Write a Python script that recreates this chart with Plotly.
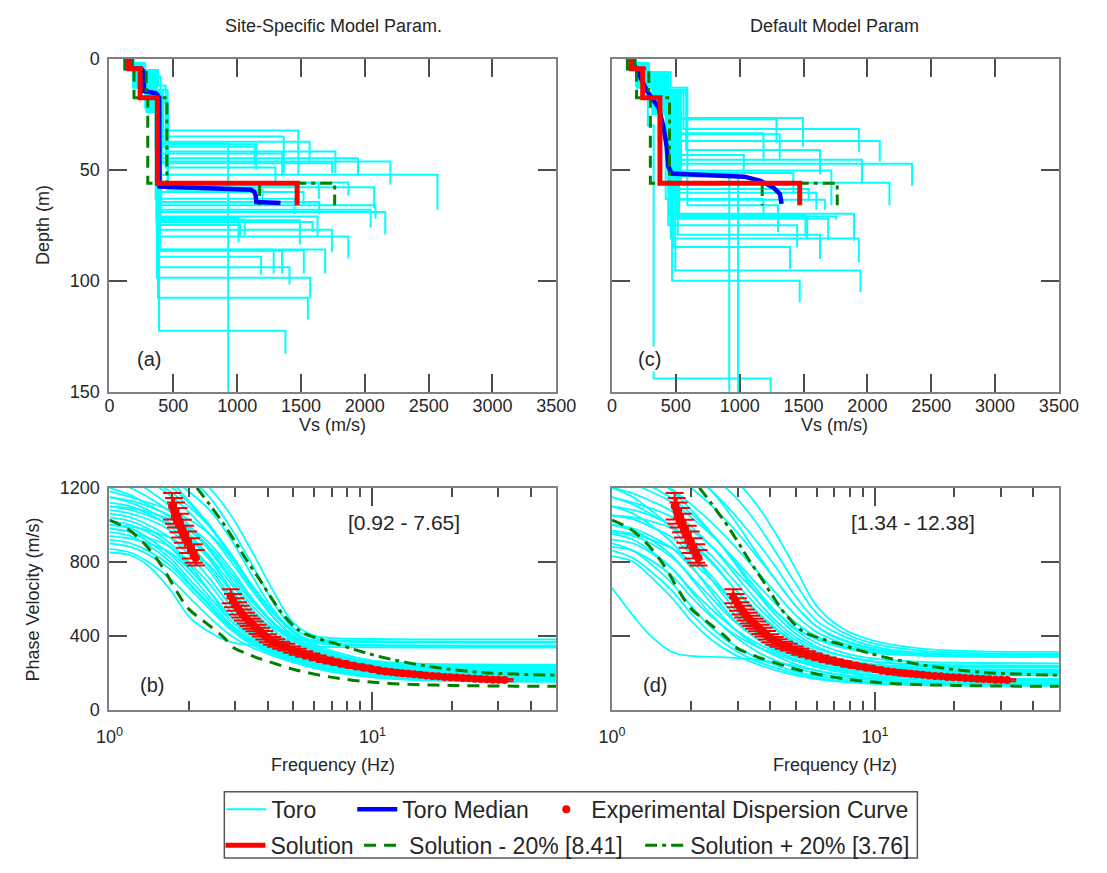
import plotly.graph_objects as go

W, H = 1107, 873

# ---------------- Vs profiles ----------------
# Toro-randomised profiles, site-specific parameters.
# Layer Vs (m/s) and depth of each layer bottom (m); last layer = half-space segment.
ss_vs = [
    [140, 210, 330, 380, 1479], [160, 230, 350, 400, 1365], [130, 200, 310, 370, 1567],
    [150, 250, 360, 390, 930], [170, 240, 300, 420, 1150], [120, 190, 280, 360, 1137],
    [145, 220, 340, 445, 1770], [180, 260, 370, 395, 1353], [135, 205, 320, 385, 1947],
    [155, 235, 355, 410, 2200], [125, 195, 290, 375, 1745], [165, 245, 345, 400, 2569],
    [140, 215, 330, 380, 1871], [150, 225, 350, 390, 2073], [130, 210, 300, 365, 1520],
    [175, 255, 365, 405, 1643], [145, 230, 335, 385, 2084], [160, 240, 360, 395, 2046],
    [135, 200, 315, 372, 2160], [150, 220, 340, 388, 1011], [170, 250, 355, 398, 1059],
    [125, 190, 305, 368, 1491], [155, 235, 345, 392, 1022], [140, 215, 325, 380, 1590],
    [165, 245, 350, 400, 1630], [130, 205, 310, 370, 1742], [150, 225, 340, 385, 1871],
    [145, 220, 330, 378, 1689], [160, 240, 350, 395, 1286], [135, 210, 320, 375, 1352],
    [155, 230, 345, 390, 1522], [140, 215, 335, 382, 1188], [150, 225, 340, 386, 1410],
    [130, 205, 315, 372, 1572], [145, 220, 330, 380, 1554], [155, 235, 345, 388, 1378],
    [175, 260, 370, 455, 1200], [120, 185, 290, 362, 1450], [190, 280, 380, 440, 1300],
    [140, 200, 400, 460, 1640],
]
ss_bot = [
    [3, 9, 18, 32.3, 52], [2, 8, 16, 35, 51.5], [4, 10, 20, 37.4, 47],
    [3, 7, 17, 38, 160], [2, 6, 14, 38.5, 49.8], [5, 12, 22, 39.6, 48],
    [3, 9, 19, 41.8, 51.5], [2, 7, 15, 42.6, 53], [4, 11, 21, 44.8, 52.8],
    [3, 8, 17, 46.3, 56.6], [4, 12, 23, 47, 51.5], [2, 7, 16, 52.2, 68],
    [3, 10, 19, 55.7, 61.6], [3, 8, 18, 57.9, 67.4], [4, 11, 24, 60, 66],
    [2, 6, 15, 64.5, 70], [3, 9, 18, 66, 72], [2, 8, 17, 68, 76],
    [4, 10, 20, 69, 79.2], [3, 9, 18, 71.7, 82.7], [2, 7, 16, 72.4, 80],
    [5, 12, 22, 72.7, 83.6], [3, 8, 17, 74.9, 80], [3, 10, 19, 73.5, 78],
    [2, 7, 16, 71, 80], [4, 11, 21, 77, 87.1], [3, 9, 18, 80, 90],
    [3, 9, 19, 85.9, 96.7], [2, 8, 17, 86, 96.7], [4, 10, 20, 86.5, 96.7],
    [3, 8, 17, 86.2, 96.7], [3, 9, 18, 89.2, 97.3], [3, 9, 18, 93.9, 101.7],
    [4, 11, 21, 98.6, 108], [3, 9, 19, 107.6, 117.4], [3, 8, 17, 122.5, 133],
    [2, 6, 14, 59, 64], [5, 13, 24, 63, 70], [2, 5, 12, 49, 55],
    [3, 8, 20, 56, 63],
]

# Toro-randomised profiles, default parameters.
def_vs = [
    [150, 230, 380, 520, 1495], [130, 210, 350, 480, 1288], [170, 260, 420, 560, 1933],
    [120, 200, 330, 450, 1186], [160, 240, 400, 500, 1313], [140, 220, 360, 470, 2097],
    [180, 280, 440, 580, 1629], [125, 190, 320, 430, 1032], [155, 250, 390, 510, 1958],
    [135, 215, 345, 460, 2350], [165, 255, 410, 530, 1718], [145, 225, 370, 490, 1420],
    [150, 235, 360, 440, 918], [140, 230, 340, 470, 987], [175, 270, 430, 540, 2173],
    [130, 205, 335, 455, 1540], [160, 245, 380, 500, 1600], [120, 195, 315, 420, 1186],
    [150, 240, 375, 485, 1667], [145, 220, 350, 465, 1895], [170, 265, 415, 525, 1528],
    [135, 210, 340, 450, 1515], [155, 250, 395, 505, 1756], [140, 225, 355, 475, 1693],
    [165, 255, 400, 515, 1629], [130, 210, 340, 460, 1933], [150, 235, 370, 480, 1394],
    [160, 245, 385, 495, 1946], [145, 230, 360, 470, 1470], [120, 190, 280, 326, 1242],
    [185, 290, 460, 590, 1300], [125, 200, 330, 440, 1450],
]
def_bot = [
    [3, 8, 16, 26.7, 39.6], [4, 10, 18, 27.2, 38], [2, 7, 15, 31.6, 42],
    [3, 9, 20, 33.5, 46], [2, 8, 17, 34, 45], [3, 11, 22, 37, 46.2],
    [2, 6, 14, 41.1, 52], [4, 12, 24, 43.3, 50], [3, 9, 19, 45.5, 55.8],
    [4, 10, 21, 47.3, 57.3], [2, 8, 16, 50.3, 66], [3, 9, 18, 51.4, 60],
    [3, 9, 20, 52, 160], [3, 10, 21, 53, 160], [2, 7, 15, 55.8, 66],
    [4, 11, 23, 58.7, 64], [3, 8, 17, 60.3, 68], [5, 13, 25, 63.2, 72.6],
    [3, 9, 18, 63.5, 68], [3, 10, 20, 69.8, 82], [2, 7, 15, 71.2, 81.5],
    [4, 11, 22, 70.5, 80], [3, 8, 17, 71, 72.5], [3, 10, 20, 72, 81.8],
    [2, 8, 16, 79.3, 90.2], [4, 11, 22, 81, 91.7], [3, 9, 18, 84.8, 94.6],
    [3, 8, 17, 95.4, 105], [3, 10, 19, 100, 109.7], [4, 12, 30, 144, 160],
    [2, 6, 13, 66, 78], [4, 12, 24, 75, 85],
]

# Median of the Toro profiles (Vs, depth pairs)
med_ss_vs = [150, 150, 250, 270, 270, 365, 390, 392, 1110, 1135, 1145, 1150, 1340]
med_ss_depth = [0, 4.5, 4.5, 6, 14.5, 15.5, 17.5, 57.5, 59, 60, 61.5, 64.5, 65]
med_def_vs = [150, 200, 276, 365, 403, 428, 441, 466, 707, 1036, 1163, 1264, 1315, 1328]
med_def_depth = [0, 6, 14.7, 22, 30.8, 39.6, 48.4, 51.7, 52.4, 53.1, 55, 58, 60.9, 65.3]

# Inverted solution and its +/- 20 % variants
sol_vs = [150, 240, 375, 1470]
sol_minus_vs = [120, 192, 300, 1176]
sol_plus_vs = [180, 288, 450, 1764]
sol_bot = [4.5, 17.5, 56, 66]

# ---------------- Dispersion curves ----------------
toro_freq = [1.0, 1.2, 1.4, 1.7, 2.0, 2.4, 2.9, 3.5, 4.2, 5.0, 6.0, 7.5, 10, 15, 25, 50]

ss_vr = [
    [1500, 1450, 1400, 1350, 1290, 1200, 1050, 850, 640, 470, 400, 385, 382, 380, 380, 380],
    [1450, 1400, 1350, 1300, 1250, 1150, 980, 780, 580, 440, 385, 372, 368, 366, 365, 365],
    [1400, 1360, 1310, 1250, 1180, 1080, 920, 720, 540, 420, 370, 355, 350, 348, 347, 347],
    [1350, 1300, 1250, 1180, 1100, 990, 840, 660, 500, 400, 362, 350, 345, 343, 342, 342],
    [1100, 1080, 1050, 1000, 930, 820, 650, 520, 440, 395, 375, 368, 365, 364, 363, 363],
    [980, 960, 930, 880, 790, 640, 480, 410, 390, 380, 375, 372, 370, 369, 368, 368],
    [850, 835, 780, 650, 505, 420, 365, 350, 345, 342, 340, 338, 337, 336, 336, 336],
    [1300, 1250, 1190, 1100, 1000, 870, 720, 580, 470, 390, 330, 285, 255, 240, 236, 235],
    [1250, 1200, 1150, 1070, 980, 860, 700, 560, 450, 370, 315, 275, 245, 230, 226, 225],
    [1200, 1160, 1110, 1040, 950, 830, 680, 540, 430, 355, 300, 262, 236, 222, 218, 217],
    [1150, 1120, 1080, 1010, 930, 810, 650, 510, 410, 340, 290, 255, 228, 214, 210, 208],
    [1120, 1100, 1060, 990, 900, 770, 610, 480, 390, 325, 280, 246, 222, 207, 202, 200],
    [1080, 1060, 1030, 970, 880, 750, 590, 460, 375, 315, 272, 240, 215, 200, 195, 193],
    [1060, 1040, 1000, 930, 840, 710, 560, 440, 360, 305, 265, 234, 208, 194, 188, 186],
    [1040, 1020, 980, 900, 800, 680, 530, 420, 345, 295, 258, 228, 202, 188, 182, 180],
    [1020, 1000, 960, 880, 770, 640, 500, 400, 335, 288, 252, 222, 197, 182, 176, 174],
    [1000, 980, 930, 840, 740, 610, 480, 385, 325, 280, 246, 216, 192, 177, 171, 169],
    [980, 960, 910, 820, 710, 590, 460, 375, 318, 274, 240, 210, 186, 172, 166, 164],
    [960, 940, 890, 800, 690, 570, 450, 365, 310, 268, 235, 205, 182, 168, 162, 160],
    [1150, 1130, 1100, 1050, 990, 900, 760, 600, 470, 380, 320, 275, 240, 218, 208, 205],
    [1100, 1090, 1070, 1030, 970, 880, 740, 590, 465, 375, 315, 270, 232, 210, 200, 197],
    [940, 925, 900, 850, 760, 640, 500, 400, 330, 280, 245, 212, 188, 172, 165, 162],
    [920, 900, 860, 780, 680, 560, 440, 360, 305, 265, 232, 204, 180, 165, 158, 155],
    [900, 880, 840, 760, 660, 545, 430, 350, 298, 258, 226, 198, 175, 160, 153, 150],
    [1180, 1150, 1120, 1080, 1030, 950, 820, 650, 500, 395, 330, 280, 245, 225, 216, 213],
    [1350, 1300, 1240, 1160, 1070, 950, 800, 640, 500, 400, 335, 285, 250, 232, 227, 226],
    [1400, 1350, 1290, 1210, 1120, 990, 830, 660, 520, 415, 345, 295, 258, 240, 236, 235],
    [1500, 1420, 1340, 1240, 1130, 1000, 840, 670, 530, 425, 355, 305, 265, 248, 244, 243],
    [870, 850, 800, 710, 610, 500, 400, 335, 290, 255, 225, 198, 176, 162, 156, 154],
    [1000, 990, 970, 930, 870, 780, 640, 510, 410, 335, 285, 248, 220, 203, 196, 194],
]

def_vr = [
    [1600, 1550, 1500, 1450, 1400, 1330, 1250, 1120, 950, 760, 560, 440, 370, 330, 315, 312],
    [1550, 1500, 1450, 1400, 1340, 1260, 1160, 1020, 850, 680, 520, 420, 355, 318, 305, 303],
    [1500, 1450, 1400, 1340, 1270, 1180, 1060, 920, 770, 610, 480, 400, 340, 308, 298, 296],
    [1450, 1400, 1350, 1280, 1200, 1100, 980, 840, 700, 560, 450, 380, 330, 302, 293, 291],
    [1350, 1310, 1260, 1190, 1110, 1010, 890, 760, 630, 510, 420, 360, 318, 298, 290, 288],
    [1250, 1220, 1180, 1120, 1040, 940, 820, 690, 570, 470, 395, 345, 310, 294, 288, 287],
    [1150, 1120, 1090, 1040, 970, 880, 760, 640, 530, 440, 380, 335, 305, 292, 286, 285],
    [1300, 1260, 1210, 1140, 1060, 950, 810, 660, 530, 430, 360, 310, 275, 258, 252, 250],
    [1200, 1170, 1130, 1070, 990, 880, 740, 600, 480, 390, 330, 290, 260, 245, 240, 238],
    [1100, 1080, 1050, 990, 910, 800, 660, 530, 430, 355, 305, 270, 245, 232, 228, 227],
    [1050, 1030, 990, 930, 840, 720, 580, 460, 380, 320, 280, 252, 232, 221, 217, 216],
    [1000, 980, 940, 870, 770, 650, 520, 420, 350, 300, 265, 240, 222, 212, 208, 207],
    [960, 940, 900, 820, 720, 600, 480, 390, 330, 285, 255, 232, 215, 205, 201, 200],
    [920, 900, 850, 760, 650, 540, 440, 365, 312, 272, 245, 224, 208, 198, 194, 193],
    [880, 860, 810, 720, 610, 500, 410, 345, 300, 262, 236, 216, 200, 190, 186, 185],
    [1000, 970, 920, 830, 710, 570, 440, 350, 290, 245, 212, 188, 170, 160, 156, 155],
    [950, 920, 860, 760, 640, 510, 400, 320, 265, 225, 196, 175, 160, 150, 147, 146],
    [900, 860, 790, 680, 560, 440, 350, 285, 240, 206, 182, 164, 150, 142, 139, 138],
    [860, 820, 750, 640, 520, 410, 325, 265, 225, 195, 172, 156, 144, 137, 134, 133],
    [830, 800, 720, 600, 480, 375, 300, 250, 212, 185, 165, 150, 139, 132, 129, 128],
    [657, 510, 400, 310, 290, 285, 280, 270, 255, 235, 210, 185, 165, 150, 145, 144],
    [1100, 1060, 1000, 900, 780, 630, 490, 390, 320, 268, 230, 202, 180, 167, 162, 161],
    [1200, 1150, 1080, 980, 850, 700, 550, 430, 350, 290, 245, 212, 188, 173, 167, 166],
    [1050, 1040, 1020, 980, 920, 830, 700, 570, 460, 375, 315, 272, 240, 222, 216, 215],
    [1400, 1340, 1270, 1180, 1080, 950, 800, 640, 510, 410, 340, 292, 258, 240, 234, 233],
    [970, 950, 920, 870, 800, 700, 580, 470, 390, 330, 285, 252, 228, 214, 209, 208],
    [1150, 1110, 1060, 990, 900, 790, 660, 540, 440, 360, 300, 258, 228, 211, 205, 204],
    [1700, 1600, 1500, 1400, 1300, 1180, 1030, 860, 700, 560, 450, 375, 325, 300, 292, 290],
]

# Experimental dispersion data (frequency Hz, phase velocity m/s, uncertainty m/s)
exp_f = [1.73, 1.76, 1.79, 1.83, 1.86, 1.90, 1.94, 1.99, 2.04, 2.09, 2.13,
         2.89, 2.95, 3.01, 3.08, 3.15, 3.22, 3.30, 3.38, 3.47, 3.56, 3.66, 3.77, 3.88,
         4.0, 4.15, 4.3, 4.5, 4.7, 4.95, 5.2, 5.5, 5.85, 6.2, 6.6, 7.0, 7.5, 8.0, 8.6,
         9.2, 9.9, 10.6,
         11.2, 11.8, 12.4, 13.0, 13.7, 14.4, 15.2, 16.0, 16.9, 17.8, 18.8, 19.8, 20.9,
         22.0, 23.2, 24.5, 25.8, 27.2, 28.7, 30.2, 31.8]
exp_v = [1100, 1075, 1053, 1025, 995, 965, 935, 905, 872, 845, 822,
         613, 590, 569, 548, 530, 512, 495, 480, 465, 450, 434, 419, 402,
         386, 372, 360, 348, 338, 325, 313, 301, 290, 280, 270, 261, 252, 243, 235,
         228, 220, 212,
         206, 203, 200, 197, 194, 191, 188, 185, 182, 180, 177, 175, 173,
         171, 169, 167, 165, 164, 162, 161, 160]
exp_err = [72, 70, 68, 66, 64, 62, 60, 58, 55, 50, 42,
           38, 36, 34, 33, 32, 30, 29, 28, 27, 26, 25, 24, 23,
           22, 21, 20, 19, 18, 17, 16, 15, 14, 13, 12, 12, 11, 11, 10,
           10, 9, 9,
           9, 9, 9, 9, 8, 8, 8, 8, 8, 8, 7, 7, 7,
           7, 7, 7, 7, 7, 6, 6, 6]

# Theoretical dispersion of the +/- 20 % solutions
minus_f = [1.0, 1.15, 1.3, 1.45, 1.6, 1.8, 2.0, 2.3, 2.7, 3.0, 3.3, 3.6, 4.0, 5.0, 6.5,
           8.5, 12, 20, 35, 50]
minus_v = [1025, 985, 925, 850, 765, 640, 545, 475, 395, 330, 305, 283, 262, 218, 183,
           158, 140, 131, 127, 126]
plus_f = [2.15, 2.4, 2.7, 3.0, 3.3, 3.7, 4.1, 4.6, 5.3, 6.2, 7.5, 9, 11, 14, 18, 25, 35, 50]
plus_v = [1200, 1110, 1010, 910, 815, 710, 610, 510, 425, 385, 350, 315, 282, 250, 225,
          203, 192, 186]

# ---------------- helpers ----------------
def step_xy(vs_list, bot_list):
    xs, ys = [], []
    for vs, bot in zip(vs_list, bot_list):
        top = 0
        for v, b in zip(vs, bot):
            xs += [v, v]
            ys += [top, b]
            top = b
        xs.append(None)
        ys.append(None)
    return xs, ys


def curves_xy(freq, vr_list):
    xs, ys = [], []
    for vr in vr_list:
        xs += list(freq) + [None]
        ys += list(vr) + [None]
    return xs, ys


CYAN, BLUE, RED, GREEN = "#00FFFF", "#0000FF", "#FF0000", "#008000"
DASH_M = "12px,8px"
DASH_P = "12px,5px,4px,5px"

fig = go.Figure()

panels = [
    ("x", "y", ss_vs, ss_bot, med_ss_vs, med_ss_depth, True),
    ("x2", "y2", def_vs, def_bot, med_def_vs, med_def_depth, False),
]
for xa, ya, pvs, pbot, mvs, mdep, leg in panels:
    tx, ty = step_xy(pvs, pbot)
    fig.add_trace(go.Scatter(x=tx, y=ty, xaxis=xa, yaxis=ya, mode="lines",
                             line=dict(color=CYAN, width=2), name="Toro",
                             showlegend=leg, legend="legend"))
    fig.add_trace(go.Scatter(x=mvs, y=mdep, xaxis=xa, yaxis=ya, mode="lines",
                             line=dict(color=BLUE, width=4.5), name="Toro Median",
                             showlegend=leg, legend="legend2"))
    mx, my = step_xy([sol_minus_vs], [sol_bot])
    fig.add_trace(go.Scatter(x=mx, y=my, xaxis=xa, yaxis=ya, mode="lines",
                             line=dict(color=GREEN, width=3, dash=DASH_M),
                             name="Solution - 20% [8.41]", showlegend=leg, legend="legend5"))
    px_, py_ = step_xy([sol_plus_vs], [sol_bot])
    fig.add_trace(go.Scatter(x=px_, y=py_, xaxis=xa, yaxis=ya, mode="lines",
                             line=dict(color=GREEN, width=3, dash=DASH_P),
                             name="Solution + 20% [3.76]", showlegend=leg, legend="legend6"))
    sx, sy = step_xy([sol_vs], [sol_bot])
    fig.add_trace(go.Scatter(x=sx, y=sy, xaxis=xa, yaxis=ya, mode="lines",
                             line=dict(color=RED, width=5), name="Solution",
                             showlegend=leg, legend="legend4"))

for xa, ya, vr_list, leg in [("x3", "y3", ss_vr, True), ("x4", "y4", def_vr, False)]:
    cx, cy = curves_xy(toro_freq, vr_list)
    fig.add_trace(go.Scatter(x=cx, y=cy, xaxis=xa, yaxis=ya, mode="lines",
                             line=dict(color=CYAN, width=1.8, shape="spline", smoothing=1.0),
                             showlegend=False))
    fig.add_trace(go.Scatter(x=minus_f, y=minus_v, xaxis=xa, yaxis=ya, mode="lines",
                             line=dict(color=GREEN, width=3, dash=DASH_M, shape="spline"),
                             showlegend=False))
    fig.add_trace(go.Scatter(x=plus_f, y=plus_v, xaxis=xa, yaxis=ya, mode="lines",
                             line=dict(color=GREEN, width=3, dash=DASH_P, shape="spline"),
                             showlegend=False))
    fig.add_trace(go.Scatter(x=exp_f, y=exp_v, xaxis=xa, yaxis=ya, mode="markers",
                             marker=dict(color=RED, size=8),
                             error_y=dict(type="data", array=exp_err, color=RED,
                                          thickness=2, width=9),
                             name="Experimental Dispersion Curve",
                             showlegend=leg, legend="legend3"))

# ---------------- layout ----------------
def px_x(p):
    return p / W


def px_y(p):
    return 1 - p / H


XL = [px_x(98.5), px_x(559.5)]
XR = [px_x(617), px_x(1078)]
YT = [px_y(390.7), px_y(50)]
YB = [px_y(716), px_y(489)]

axis_style = dict(showline=True, linecolor="#808080", linewidth=2, mirror="ticks",
                  ticks="inside", ticklen=18, tickwidth=1.5, tickcolor="#4d4d4d",
                  showgrid=False, zeroline=False,
                  tickfont=dict(size=18, color="#262626"))

vs_ticks = [0, 500, 1000, 1500, 2000, 2500, 3000, 3500]
depth_ticks = [0, 50, 100, 150]
vr_ticks = [0, 400, 800, 1200]
minor_log = dict(ticks="inside", ticklen=9, tickwidth=1.5, tickcolor="#4d4d4d",
                 tickvals=[2, 3, 4, 5, 6, 7, 8, 9, 20, 30, 40], showgrid=False)

fig.update_layout(
    width=W, height=H, margin=dict(l=0, r=0, t=0, b=0),
    paper_bgcolor="white", plot_bgcolor="white",
    font=dict(family="Liberation Sans, Arial, sans-serif", color="#262626"),
    xaxis=dict(domain=XL, anchor="y", range=[0, 3500], tickvals=vs_ticks,
               ticklabelstandoff=-3, **axis_style),
    yaxis=dict(domain=YT, anchor="x", range=[150, 0], tickvals=depth_ticks,
               ticklabelstandoff=4, **axis_style),
    xaxis2=dict(domain=XR, anchor="y2", range=[0, 3500], tickvals=vs_ticks,
                ticklabelstandoff=-3, **axis_style),
    yaxis2=dict(domain=YT, anchor="x2", range=[150, 0], tickvals=depth_ticks,
                showticklabels=False, **axis_style),
    xaxis3=dict(domain=XL, anchor="y3", type="log", range=[0, 1.69897], tickvals=[1, 10],
                ticktext=["10<sup>0</sup>", "10<sup>1</sup>"], minor=minor_log,
                ticklabelstandoff=10, **axis_style),
    yaxis3=dict(domain=YB, anchor="x3", range=[0, 1200], tickvals=vr_ticks,
                ticklabelstandoff=4, **axis_style),
    xaxis4=dict(domain=XR, anchor="y4", type="log", range=[0, 1.69897], tickvals=[1, 10],
                ticktext=["10<sup>0</sup>", "10<sup>1</sup>"], minor=minor_log,
                ticklabelstandoff=10, **axis_style),
    yaxis4=dict(domain=YB, anchor="x4", range=[0, 1200], tickvals=vr_ticks,
                showticklabels=False, **axis_style),
)

# legends: one per entry, placed inside a common box
leg_font = dict(size=23, color="#262626")
leg_common = dict(bgcolor="rgba(0,0,0,0)", borderwidth=0, font=leg_font,
                  xanchor="left", yanchor="middle", itemwidth=40)
fig.update_layout(
    legend=dict(x=px_x(214), y=px_y(818), **leg_common),
    legend2=dict(x=px_x(349), y=px_y(818), **leg_common),
    legend3=dict(x=px_x(544), y=px_y(818), **leg_common),
    legend4=dict(x=px_x(213), y=px_y(855), **leg_common),
    legend5=dict(x=px_x(356), y=px_y(855), **leg_common),
    legend6=dict(x=px_x(646), y=px_y(855), **leg_common),
)
fig.add_shape(type="rect", xref="paper", yref="paper",
              x0=px_x(217), x1=px_x(932), y0=px_y(868), y1=px_y(800),
              line=dict(color="#555555", width=1.5), fillcolor="rgba(0,0,0,0)")

ann = []
def text(x, y, s, size, angle=0, bg=None):
    d = dict(x=px_x(x), y=px_y(y), xref="paper", yref="paper", text=s, showarrow=False,
             xanchor="center", yanchor="middle", textangle=angle,
             font=dict(size=size, color="#262626"))
    if bg:
        d["bgcolor"] = bg
    ann.append(d)

text(330, 16, "Site-Specific Model Param.", 18)
text(846, 16, "Default Model Param", 18)
text(329, 425, "Vs (m/s)", 18)
text(847, 425, "Vs (m/s)", 18)
text(329, 773, "Frequency (Hz)", 18)
text(847, 773, "Frequency (Hz)", 18)
text(30, 220, "Depth (m)", 18, angle=-90)
text(20, 603, "Phase Velocity (m/s)", 18, angle=-90)
text(139, 357, "(a)", 20, bg="white")
text(656, 357, "(c)", 20, bg="white")
text(142, 691, "(b)", 20, bg="white")
text(661, 691, "(d)", 20, bg="white")
text(402, 525, "[0.92 - 7.65]", 21)
text(928, 525, "[1.34 - 12.38]", 21)
fig.update_layout(annotations=ann)

fig.write_html("out.html")
